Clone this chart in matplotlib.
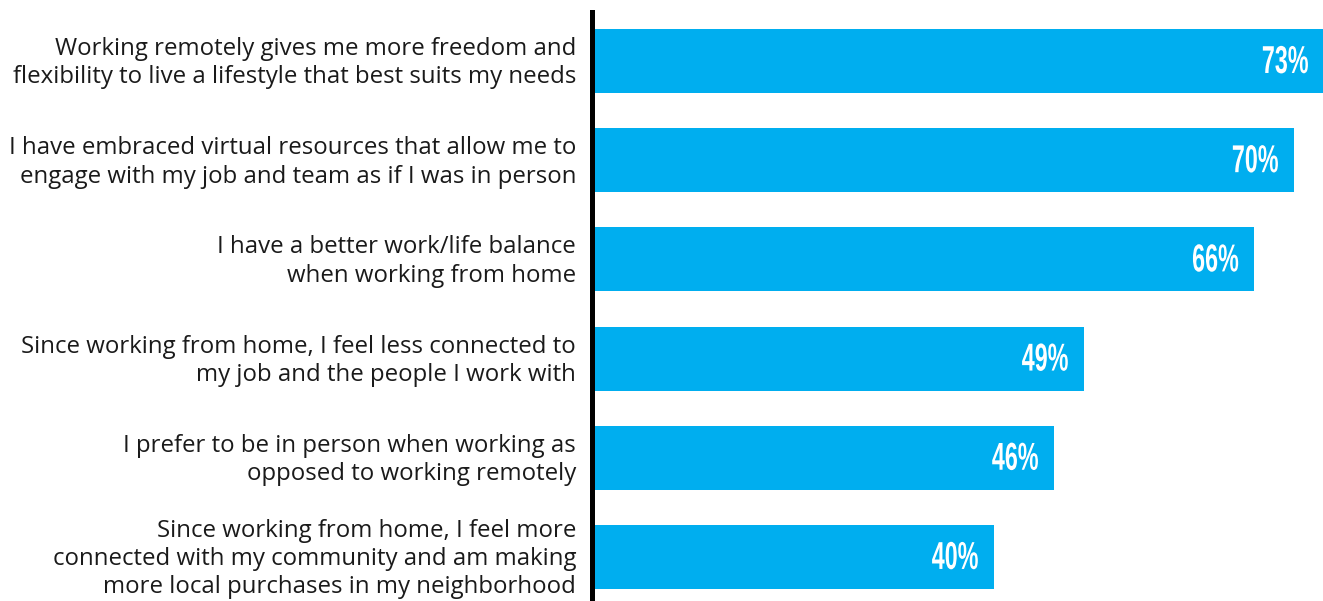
import matplotlib

matplotlib.use("Agg")
import matplotlib.pyplot as plt
from matplotlib import patheffects
from matplotlib.transforms import Affine2D, ScaledTranslation

statements = [
    "Working remotely gives me more freedom and\nflexibility to live a lifestyle that best suits my needs",
    "I have embraced virtual resources that allow me to\nengage with my job and team as if I was in person",
    "I have a better work/life balance\nwhen working from home",
    "Since working from home, I feel less connected to\nmy job and the people I work with",
    "I prefer to be in person when working as\nopposed to working remotely",
    "Since working from home, I feel more\nconnected with my community and am making\nmore local purchases in my neighborhood",
]
agree_pct = [73, 70, 66, 49, 46, 40]

BAR_COLOR = "#00AEEF"
TEXT_COLOR = "#1a1a1a"


class Squeeze(patheffects.AbstractPathEffect):
    """Narrow the glyphs horizontally, keeping the right edge fixed."""

    def __init__(self, sx=0.6):
        super().__init__()
        self.sx = sx

    def draw_path(self, renderer, gc, tpath, affine, rgbFace=None):
        xmax = tpath.vertices[:, 0].max()
        squeeze = Affine2D().translate(-xmax, 0).scale(self.sx, 1).translate(xmax, 0)
        renderer.draw_path(gc, squeeze.transform_path(tpath), affine, rgbFace)


fig = plt.figure(figsize=(13.23, 6.01), dpi=100)
ax = fig.add_axes([594 / 1323, 0, 1 - 594 / 1323, 1])

# spines first: moving a spine resets the tick labels
for side in ("top", "right", "bottom"):
    ax.spines[side].set_visible(False)
ax.spines["left"].set_linewidth(3.6)
ax.spines["left"].set_color("black")
ax.spines["left"].set_position(("outward", 1.8))
ax.spines["left"].set_bounds(5.444, -0.494)

pos = list(range(len(agree_pct)))
ax.barh(pos, agree_pct, height=0.645, color=BAR_COLOR, zorder=2)
ax.set_xlim(0, 72.9)
ax.set_ylim(5.444, -0.615)

for y, v in zip(pos, agree_pct):
    ax.text(v - 1.5, y + 0.02, f"{v}%", ha="right", va="center", color="white",
            fontsize=28, fontweight="bold",
            family=["Liberation Sans", "DejaVu Sans"],
            path_effects=[Squeeze(0.6)])

ax.tick_params(axis="y", length=0, pad=11)
ax.set_xticks([])
ax.set_yticks(pos)
ax.set_yticklabels(statements, fontsize=17.3, color=TEXT_COLOR,
                   family=["Open Sans", "DejaVu Sans"], linespacing=1.24)

# nudge the statement labels up a little
lift = ScaledTranslation(0, 0.03, fig.dpi_scale_trans)
for lbl in ax.get_yticklabels():
    lbl.set_transform(lbl.get_transform() + lift)

fig.savefig("out.png", dpi=100)
